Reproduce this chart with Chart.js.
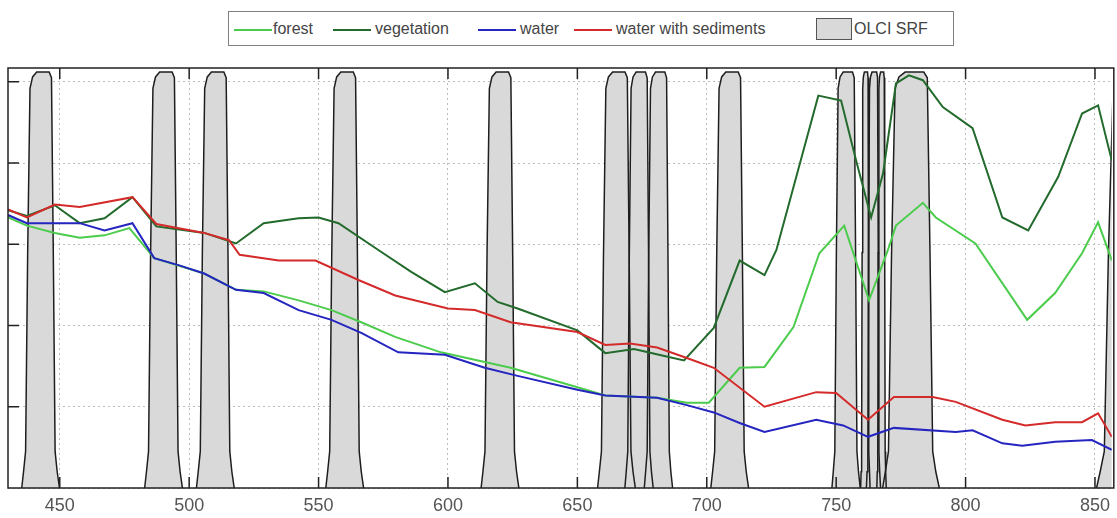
<!DOCTYPE html>
<html>
<head>
<meta charset="utf-8">
<script src="https://cdn.jsdelivr.net/npm/chart.js@4/dist/chart.umd.min.js"></script>
<style>
  body { margin: 0; background: #fff; }
  #wrap { position: relative; width: 1117px; height: 518px; overflow: hidden; }
  #legend { position: absolute; left: 228px; top: 11px; width: 726px; height: 35px;
    border: 1.5px solid #808080; box-sizing: border-box; background: #fff;
    font: 16px "Liberation Sans", Arial, sans-serif; color: #444; }
  #legend span { position: absolute; top: 8px; }
  #legend i { position: absolute; top: 17px; height: 2px; width: 38px; }
  #legend b { position: absolute; top: 6px; width: 36px; height: 22px; background: #d9d9d9;
    border: 1.5px solid #555; box-sizing: border-box; }
</style>
</head>
<body>
<div id="wrap">
  <canvas id="srfChart" width="1117" height="518"></canvas>
  <div id="legend">
    <i style="left:5px;background:#4ccc4c"></i><span style="left:44px">forest</span>
    <i style="left:104px;background:#236b2c"></i><span style="left:146px">vegetation</span>
    <i style="left:249px;background:#2525c0"></i><span style="left:291px">water</span>
    <i style="left:345px;background:#d42a2a"></i><span style="left:387px">water with sediments</span>
    <b style="left:587px"></b><span style="left:625px">OLCI SRF</span>
  </div>
</div>
<script>
// spectra (wavelength nm / relative value)
const forestWl = [430, 437.3, 448.1, 457.7, 467.3, 476.9, 486.5, 505.8, 518.1, 528.8, 542.3, 555.0, 566.5, 579.6, 597.3, 624.2, 650.0, 660.8, 680.8, 692.3, 700.8, 712.7, 722.3, 733.5, 743.5, 753.1, 762.7, 770.0, 773.1, 783.5, 788.5, 803.8, 823.8, 834.6, 845.0, 851.2, 856.5];
const forestVal = [3.33, 3.23, 3.14, 3.08, 3.11, 3.20, 2.83, 2.64, 2.44, 2.42, 2.31, 2.19, 2.04, 1.86, 1.67, 1.48, 1.24, 1.14, 1.11, 1.05, 1.05, 1.48, 1.49, 1.98, 2.89, 3.23, 2.31, 2.93, 3.23, 3.51, 3.33, 3.01, 2.07, 2.40, 2.89, 3.27, 2.80];

const vegWl = [430, 437.3, 448.1, 457.7, 467.3, 478.1, 487.3, 505.8, 518.1, 528.8, 542.3, 550.0, 557.7, 573.1, 585.8, 598.8, 610.4, 619.2, 626.9, 650.0, 660.8, 671.9, 681.5, 691.2, 702.7, 712.7, 722.3, 726.9, 743.1, 751.9, 757.7, 763.5, 768.1, 773.1, 778.1, 783.5, 791.2, 802.7, 814.2, 824.2, 835.8, 845.0, 851.2, 856.5];
const vegVal = [3.42, 3.35, 3.48, 3.26, 3.32, 3.58, 3.22, 3.14, 3.01, 3.26, 3.32, 3.33, 3.26, 2.93, 2.66, 2.41, 2.52, 2.29, 2.21, 1.94, 1.66, 1.71, 1.64, 1.57, 1.97, 2.80, 2.62, 2.93, 4.83, 4.77, 4.03, 3.33, 3.87, 4.98, 5.08, 5.02, 4.69, 4.43, 3.33, 3.17, 3.83, 4.61, 4.71, 4.03];

const waterWl = [430, 437.3, 457.7, 467.3, 478.1, 486.5, 496.2, 505.8, 518.1, 528.8, 542.3, 555.0, 566.5, 580.8, 598.8, 614.2, 626.9, 650.0, 660.8, 680.8, 692.3, 702.7, 712.7, 722.3, 742.3, 752.7, 762.3, 772.3, 796.2, 802.7, 814.2, 821.9, 834.6, 848.8, 856.5];
const waterVal = [3.36, 3.26, 3.26, 3.17, 3.26, 2.83, 2.74, 2.64, 2.44, 2.40, 2.19, 2.07, 1.91, 1.67, 1.64, 1.48, 1.38, 1.21, 1.14, 1.11, 1.02, 0.93, 0.80, 0.69, 0.84, 0.77, 0.63, 0.74, 0.69, 0.71, 0.55, 0.52, 0.57, 0.59, 0.47];

const sedWl = [430, 437.3, 448.1, 457.7, 478.1, 487.3, 505.8, 515.4, 519.5, 534.6, 548.8, 565.4, 579.6, 600.0, 610.4, 624.2, 650.0, 660.8, 670.4, 680.8, 692.3, 702.7, 722.3, 742.3, 750.0, 762.3, 772.3, 787.3, 796.2, 814.2, 823.1, 834.6, 845.0, 851.2, 856.5];
const sedVal = [3.43, 3.33, 3.49, 3.46, 3.58, 3.25, 3.14, 3.05, 2.87, 2.80, 2.80, 2.56, 2.37, 2.21, 2.19, 2.04, 1.92, 1.76, 1.78, 1.73, 1.60, 1.48, 1.00, 1.18, 1.17, 0.84, 1.12, 1.12, 1.06, 0.84, 0.77, 0.81, 0.81, 0.92, 0.63];

// OLCI bands (centre, width in nm) and the common SRF outline
const bandCenter = [442.5, 490, 510, 560, 620, 665, 673.75, 681.25, 708.75, 753.75, 761.25, 764.375, 767.5, 778.75, 865];
const bandWidth = [10, 10, 10, 10, 10, 10, 7.5, 7.5, 10, 7.5, 2.5, 3.75, 2.5, 15, 20];
const srfPos = [-0.22, -0.15, -0.07, 0.01, 0.1, 0.2, 0.36, 0.64, 0.84, 0.93, 1.0, 1.07, 1.15, 1.24];
const srfLevel = [0, 0.2, 0.45, 2.9, 4.92, 5.06, 5.12, 5.12, 5.12, 5.05, 2.9, 0.45, 0.2, 0];

const xTicks = [450, 500, 550, 600, 650, 700, 750, 800, 850];

const pts = (wl, val) => wl.map((w, i) => ({ x: w, y: val[i] }));

function series(label, wl, val, color) {
  return { label, data: pts(wl, val), borderColor: color, borderWidth: 2,
    pointRadius: 0, fill: false, tension: 0, order: 0 };
}

const bandSets = bandCenter.map((c, b) => ({
  label: "OLCI SRF",
  data: srfPos.map((p, i) => ({ x: c - bandWidth[b] / 2 + p * bandWidth[b], y: srfLevel[i] })),
  borderColor: "#1e1e1e", borderWidth: 1.5, backgroundColor: "#d9d9d9",
  pointRadius: 0, fill: "origin", tension: 0, order: 10
}));

const frame = {
  id: "frame",
  afterDraw(chart) {
    const { ctx, chartArea: a, scales: { x, y } } = chart;
    ctx.save();
    ctx.strokeStyle = "#222";
    ctx.lineWidth = 1.5;
    ctx.strokeRect(a.left, a.top, a.right - a.left + 2, a.bottom - a.top);
    ctx.beginPath();
    xTicks.forEach(t => {
      const px = x.getPixelForValue(t);
      ctx.moveTo(px, a.bottom); ctx.lineTo(px, a.bottom - 11);
      ctx.moveTo(px, a.top); ctx.lineTo(px, a.top + 11);
    });
    [1, 2, 3, 4, 5].forEach(t => {
      const py = y.getPixelForValue(t);
      ctx.moveTo(a.left, py); ctx.lineTo(a.left + 11, py);
    });
    ctx.stroke();
    ctx.restore();
  }
};

new Chart(document.getElementById("srfChart"), {
  type: "line",
  data: {
    datasets: [
      series("water with sediments", sedWl, sedVal, "#d42a2a"),
      series("water", waterWl, waterVal, "#2525c0"),
      series("vegetation", vegWl, vegVal, "#236b2c"),
      series("forest", forestWl, forestVal, "#4ccc4c"),
      ...bandSets
    ]
  },
  options: {
    responsive: false,
    animation: false,
    layout: { padding: { left: 8, top: 68, right: 0, bottom: 0 } },
    plugins: { legend: { display: false }, tooltip: { enabled: false }, filler: { drawTime: "beforeDatasetsDraw" } },
    scales: {
      x: {
        type: "linear", min: 430, max: 856.5,
        afterBuildTicks: s => { s.ticks = xTicks.map(v => ({ value: v })); },
        afterFit: s => { s.height = 30; },
        ticks: { font: { family: "Liberation Sans", size: 18 }, color: "#555", padding: 7 },
        grid: { color: "#bdbdbd", drawTicks: false },
        border: { display: false, dash: [2, 3] }
      },
      y: {
        min: 0, max: 5.17,
        ticks: { display: false, stepSize: 1, includeBounds: false },
        grid: { color: "#bdbdbd", drawTicks: false },
        border: { display: false, dash: [2, 3] }
      }
    }
  },
  plugins: [frame]
});
</script>
</body>
</html>
